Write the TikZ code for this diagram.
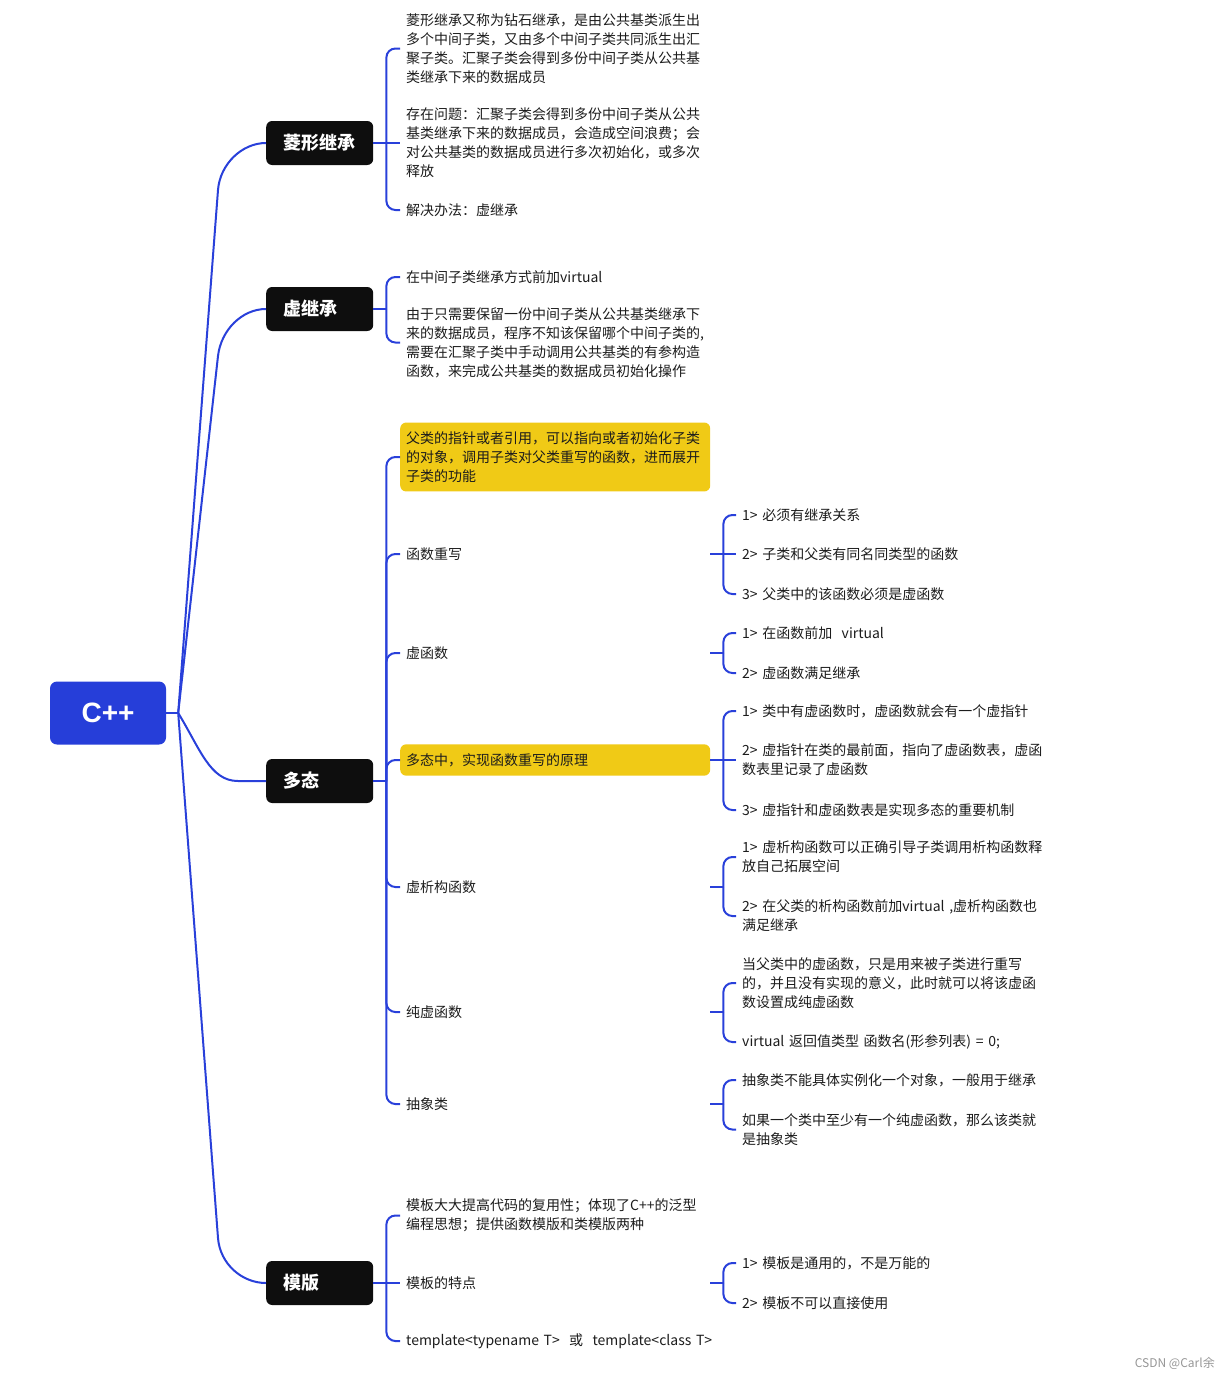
\documentclass[tikz,border=0pt]{standalone}
\usepackage{fontspec}
\setmainfont{Noto Sans CJK SC}
\newfontfamily\rootfont{Liberation Sans}
\usetikzlibrary{calc}
\definecolor{linkblue}{RGB}{41,64,218}
\definecolor{rootblue}{RGB}{38,62,217}
\definecolor{topicblack}{RGB}{14,14,14}
\definecolor{hlyellow}{RGB}{240,202,22}
\definecolor{leaftext}{RGB}{28,28,28}
\definecolor{markgray}{RGB}{150,150,150}
\begin{document}
\begin{tikzpicture}[x=1pt,y=-1pt,
  rootbox/.style={fill=rootblue, rounded corners=7pt, minimum width=116pt, minimum height=63pt, inner sep=0pt, text=white, font=\rootfont\fontsize{28}{30}\selectfont\bfseries},
  topicbox/.style={anchor=west, fill=topicblack, rounded corners=6pt, minimum height=44pt, text width=73pt, inner xsep=17pt, inner ysep=0pt, align=left, text=white, font=\fontsize{18}{22}\selectfont\bfseries},
  subtopic/.style={anchor=west, text width=298pt, inner xsep=6pt, inner ysep=0pt, align=left, text=leaftext, font=\fontsize{14}{19}\selectfont},
  hlbox/.style={subtopic, fill=hlyellow, rounded corners=6pt, inner ysep=9pt},
  leaf/.style={anchor=west, text width=340pt, inner xsep=6pt, inner ysep=0pt, align=left, text=leaftext, font=\fontsize{14}{19}\selectfont},
  link/.style={draw=linkblue, line width=2pt},
  brace/.style={link, rounded corners=9pt},
]
\useasboundingbox (0,0) rectangle (1231,1379);

% root and topics
\node[rootbox] (root) at (108,713) {C++};
\node[topicbox] (t1) at (266,143) {菱形继承};
\node[topicbox] (t2) at (266,309) {虚继承};
\node[topicbox] (t3) at (266,781) {多态};
\node[topicbox] (t4) at (266,1283) {模版};

\coordinate (J) at ($(root.east)+(12,0)$);
\draw[link] (root.east) -- (J);
\draw[link] (J) -- ($(t1.west)+(-48,47)$) .. controls +(2,-26) and +(-24,0) .. (t1.west);
\draw[link] (J) -- ($(t2.west)+(-48,47)$) .. controls +(3,-26) and +(-24,0) .. (t2.west);
\draw[link] (J) .. controls +(22,36) and +(-28,0) .. ($(t3.west)+(-28,0)$) -- (t3.west);
\draw[link] (J) -- ($(t4.west)+(-48,-45)$) .. controls +(2,26) and +(-24,0) .. (t4.west);

% ---------- 菱形继承 ----------
\node[subtopic] (c11) at (400,48.5) {菱形继承又称为钻石继承，是由公共基类派生出\\多个中间子类，又由多个中间子类共同派生出汇\\聚子类。汇聚子类会得到多份中间子类从公共基\\类继承下来的数据成员};
\node[subtopic] (c12) at (400,143) {存在问题：汇聚子类会得到多份中间子类从公共\\基类继承下来的数据成员，会造成空间浪费；会\\对公共基类的数据成员进行多次初始化，或多次\\释放};
\node[subtopic] (c13) at (400,210) {解决办法：虚继承};
\coordinate (s1) at ($(t1.east)+(13,0)$);
\draw[link] (t1.east) -- (s1);
\draw[brace] (s1) |- (c11.west);
\draw[link] (s1) -- (c12.west);
\draw[brace] (s1) |- (c13.west);

% ---------- 虚继承 ----------
\node[subtopic] (c21) at (400,277) {在中间子类继承方式前加virtual};
\node[subtopic] (c22) at (400,342.5) {由于只需要保留一份中间子类从公共基类继承下\\来的数据成员，程序不知该保留哪个中间子类的,\\需要在汇聚子类中手动调用公共基类的有参构造\\函数，来完成公共基类的数据成员初始化操作};
\coordinate (s2) at ($(t2.east)+(13,0)$);
\draw[link] (t2.east) -- (s2);
\draw[brace] (s2) |- (c21.west);
\draw[brace] (s2) |- (c22.west);

% ---------- 多态 ----------
\node[hlbox] (c31) at (400,457) {父类的指针或者引用，可以指向或者初始化子类\\的对象，调用子类对父类重写的函数，进而展开\\子类的功能};
\node[subtopic] (c32) at (400,554) {函数重写};
\node[subtopic] (c33) at (400,653) {虚函数};
\node[hlbox] (c34) at (400,760) {多态中，实现函数重写的原理};
\node[subtopic] (c35) at (400,887) {虚析构函数};
\node[subtopic] (c36) at (400,1012) {纯虚函数};
\node[subtopic] (c37) at (400,1104) {抽象类};
\coordinate (s3) at ($(t3.east)+(13,0)$);
\draw[link] (t3.east) -- (s3);
\foreach \c in {c31,c32,c33,c34,c35,c36,c37} {\draw[brace] (s3) |- (\c.west);}

% 函数重写
\node[leaf] (d321) at (736,515) {1> 必须有继承关系};
\node[leaf] (d322) at (736,554) {2> 子类和父类有同名同类型的函数};
\node[leaf] (d323) at (736,594) {3> 父类中的该函数必须是虚函数};
\coordinate (s32) at ($(c32.east)+(13,0)$);
\draw[link] (c32.east) -- (s32);
\draw[brace] (s32) |- (d321.west);
\draw[link] (s32) -- (d322.west);
\draw[brace] (s32) |- (d323.west);

% 虚函数
\node[leaf] (d331) at (736,633) {1> 在函数前加\ \ virtual};
\node[leaf] (d332) at (736,673) {2> 虚函数满足继承};
\coordinate (s33) at ($(c33.east)+(13,0)$);
\draw[link] (c33.east) -- (s33);
\draw[brace] (s33) |- (d331.west);
\draw[brace] (s33) |- (d332.west);

% 原理
\node[leaf] (d341) at (736,711) {1> 类中有虚函数时，虚函数就会有一个虚指针};
\node[leaf] (d342) at (736,760) {2> 虚指针在类的最前面，指向了虚函数表，虚函\\数表里记录了虚函数};
\node[leaf] (d343) at (736,810) {3> 虚指针和虚函数表是实现多态的重要机制};
\coordinate (s34) at ($(c34.east)+(13,0)$);
\draw[link] (c34.east) -- (s34);
\draw[brace] (s34) |- (d341.west);
\draw[link] (s34) -- (d342.west);
\draw[brace] (s34) |- (d343.west);

% 虚析构函数
\node[leaf] (d351) at (736,857) {1> 虚析构函数可以正确引导子类调用析构函数释\\放自己拓展空间};
\node[leaf] (d352) at (736,916) {2> 在父类的析构函数前加virtual ,虚析构函数也\\满足继承};
\coordinate (s35) at ($(c35.east)+(13,0)$);
\draw[link] (c35.east) -- (s35);
\draw[brace] (s35) |- (d351.west);
\draw[brace] (s35) |- (d352.west);

% 纯虚函数
\node[leaf] (d361) at (736,983) {当父类中的虚函数，只是用来被子类进行重写\\的，并且没有实现的意义，此时就可以将该虚函\\数设置成纯虚函数};
\node[leaf] (d362) at (736,1042) {virtual 返回值类型 函数名(形参列表) = 0;};
\coordinate (s36) at ($(c36.east)+(13,0)$);
\draw[link] (c36.east) -- (s36);
\draw[brace] (s36) |- (d361.west);
\draw[brace] (s36) |- (d362.west);

% 抽象类
\node[leaf] (d371) at (736,1080) {抽象类不能具体实例化一个对象，一般用于继承};
\node[leaf] (d372) at (736,1129.5) {如果一个类中至少有一个纯虚函数，那么该类就\\是抽象类};
\coordinate (s37) at ($(c37.east)+(13,0)$);
\draw[link] (c37.east) -- (s37);
\draw[brace] (s37) |- (d371.west);
\draw[brace] (s37) |- (d372.west);

% ---------- 模版 ----------
\node[subtopic] (c41) at (400,1215.5) {模板大大提高代码的复用性；体现了C++的泛型\\编程思想；提供函数模版和类模版两种};
\node[subtopic] (c42) at (400,1283) {模板的特点};
\node[subtopic] (c43) at (400,1341) {\mbox{template<typename T>\ \ 或\ \ template<class T>}};
\coordinate (s4) at ($(t4.east)+(13,0)$);
\draw[link] (t4.east) -- (s4);
\draw[brace] (s4) |- (c41.west);
\draw[link] (s4) -- (c42.west);
\draw[brace] (s4) |- (c43.west);

\node[leaf] (d421) at (736,1263) {1> 模板是通用的，不是万能的};
\node[leaf] (d422) at (736,1303) {2> 模板不可以直接使用};
\coordinate (s42) at ($(c42.east)+(13,0)$);
\draw[link] (c42.east) -- (s42);
\draw[brace] (s42) |- (d421.west);
\draw[brace] (s42) |- (d422.west);

% watermark
\node[anchor=east, inner sep=0pt, text=markgray, font=\fontsize{12}{14}\selectfont] (wm) at (1215,1363) {CSDN @Carl余};
\end{tikzpicture}
\end{document}
